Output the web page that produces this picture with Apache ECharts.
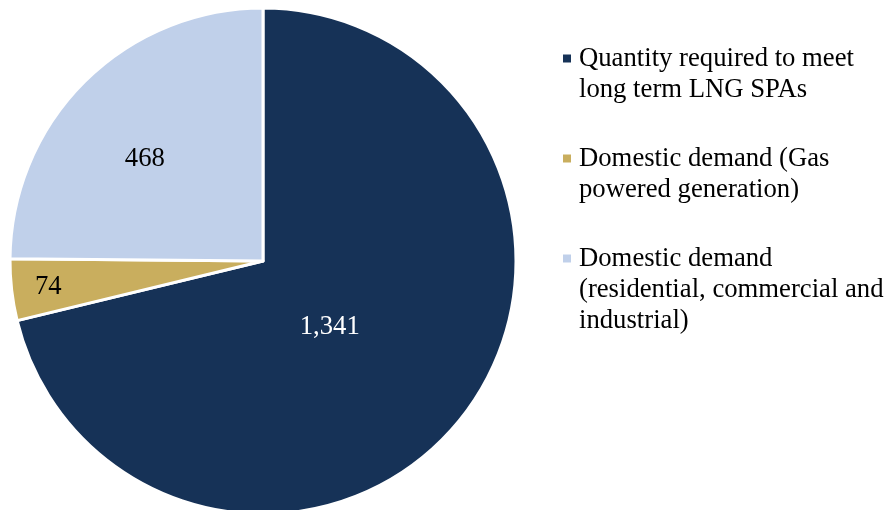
<!DOCTYPE html>
<html><head><meta charset="utf-8">
<script src="https://cdn.jsdelivr.net/npm/echarts@6/dist/echarts.min.js"></script>
<style>html,body{margin:0;padding:0;background:#fff}#c{width:884px;height:510px}</style>
</head><body><div id="c"></div>
<script>
const categories = ['Quantity required to meet long term LNG SPAs','Domestic demand (Gas powered generation)','Domestic demand (residential, commercial and industrial)'];
const legendLines = [['Quantity required to meet','long term LNG SPAs'],['Domestic demand (Gas','powered generation)'],['Domestic demand','(residential, commercial and','industrial)']];
const values = [1341, 74, 468];
const colors = ['#163257','#C9AE5E','#C0D0EA'];
const labelColors = ['#ffffff','#000000','#000000'];
const labelOffsets = [[-35,-14],[-86,11],[-27,-10]];
const font = '"Liberation Serif","Times New Roman",serif';
const chart = echarts.init(document.getElementById('c'));
const rich = {t:{fontFamily:font,fontSize:26.7,lineHeight:31,color:'#000',verticalAlign:'middle'}, s:{width:16,height:8}};
colors.forEach((c,i)=>{ rich['m'+i] = {width:8,height:8,backgroundColor:c,verticalAlign:'middle'}; });
rich.g = {width:8,height:8};
chart.setOption({
  animation:false,
  color: colors,
  legend:{orient:'vertical',left:552,top:38,itemWidth:0,itemHeight:0,itemGap:38,icon:'rect',
    formatter:function(name){const i=categories.indexOf(name);const L=legendLines[i];
      return L.map((l,j)=>(j===0?'{m'+i+'|}{g|}':'{s|}')+'{t|'+l+'}').join('\n');},
    textStyle:{fontFamily:font,fontSize:26.7,lineHeight:31,rich:rich}},
  series:[{type:'pie',center:[263,261],radius:253,startAngle:90,clockwise:true,
    itemStyle:{borderColor:'#fff',borderWidth:3},
    label:{show:true,position:'inside',fontFamily:font,fontSize:26.7},
    labelLine:{show:false},
    emphasis:{disabled:true},
    data: values.map((v,i)=>({name:categories[i],value:v,
      label:{color:labelColors[i],offset:labelOffsets[i],formatter:function(p){return p.value.toLocaleString('en-US');}}}))
  }]
});
</script></body></html>
